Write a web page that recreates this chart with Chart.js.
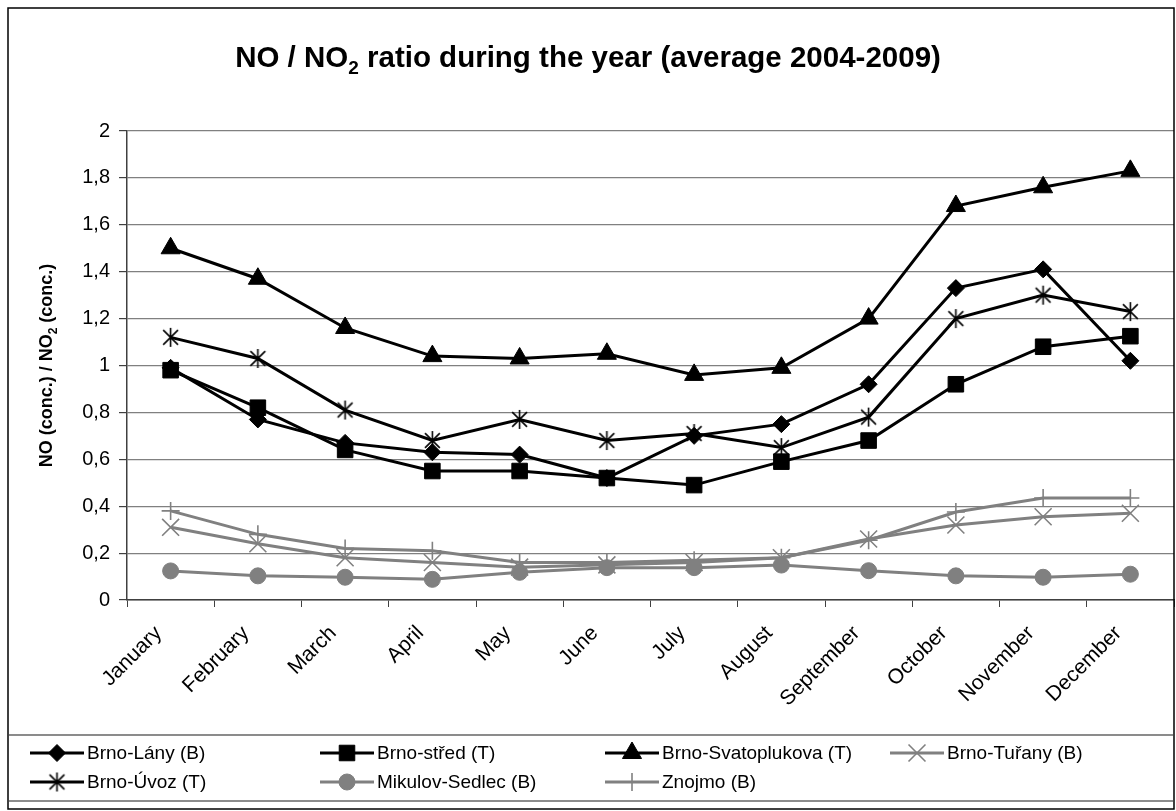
<!DOCTYPE html>
<html>
<head>
<meta charset="utf-8">
<script src="https://cdn.jsdelivr.net/npm/chart.js@4.4.0/dist/chart.umd.min.js"></script>
<style>
  html, body { margin: 0; padding: 0; background: #ffffff; }
  canvas { display: block; }
</style>
</head>
<body>
<canvas id="chart" width="1176" height="811"></canvas>
<script>
// Months on the category axis
const months = ['January', 'February', 'March', 'April', 'May', 'June',
                'July', 'August', 'September', 'October', 'November', 'December'];

// Monthly NO / NO2 ratio per station (average 2004-2009)
const brnoLany      = [0.99, 0.77, 0.67, 0.63, 0.62, 0.52, 0.70, 0.75, 0.92, 1.33, 1.41, 1.02];
const brnoStred     = [0.98, 0.82, 0.64, 0.55, 0.55, 0.52, 0.49, 0.59, 0.68, 0.92, 1.08, 1.125];
const brnoSvatopl   = [1.50, 1.37, 1.16, 1.04, 1.03, 1.05, 0.96, 0.99, 1.20, 1.68, 1.76, 1.83];
const brnoTurany    = [0.31, 0.24, 0.18, 0.16, 0.14, 0.15, 0.16, 0.18, 0.26, 0.32, 0.355, 0.37];
const brnoUvoz      = [1.12, 1.03, 0.81, 0.68, 0.77, 0.68, 0.71, 0.65, 0.78, 1.20, 1.30, 1.23];
const mikulovSedlec = [0.124, 0.103, 0.097, 0.088, 0.118, 0.138, 0.138, 0.149, 0.125, 0.103, 0.097, 0.11];
const znojmo        = [0.38, 0.28, 0.22, 0.21, 0.16, 0.16, 0.17, 0.18, 0.255, 0.375, 0.435, 0.435];

// Series names
const seriesNames = ['Brno-Lány (B)', 'Brno-střed (T)', 'Brno-Svatoplukova (T)', 'Brno-Tuřany (B)',
                     'Brno-Úvoz (T)', 'Mikulov-Sedlec (B)', 'Znojmo (B)'];

// Value axis range
const yMin = 0, yMax = 2, yStep = 0.2;

const FONT = '"Liberation Sans", Arial, Helvetica, sans-serif';
const BLACK = '#000000';
const GREY = '#808080';

// Asterisk marker: a vertical stroke crossed by two diagonals
function makeAsterisk(size, color, lw) {
  const c = document.createElement('canvas');
  c.width = size; c.height = size;
  const g = c.getContext('2d');
  const m = size / 2, r = size / 2 - 1;
  g.strokeStyle = color; g.lineWidth = lw; g.lineCap = 'butt';
  g.beginPath();
  g.moveTo(m, m - r); g.lineTo(m, m + r);
  const d = r * 0.78;
  g.moveTo(m - d, m - d); g.lineTo(m + d, m + d);
  g.moveTo(m + d, m - d); g.lineTo(m - d, m + d);
  g.stroke();
  return c;
}
const asterisk = makeAsterisk(21, BLACK, 1.6);

function series(label, data, color, style, radius, bw, idx) {
  return {
    label, data,
    borderColor: color, backgroundColor: color,
    borderWidth: 3,
    pointStyle: style, pointRadius: radius, pointHoverRadius: radius,
    pointBackgroundColor: color, pointBorderColor: color,
    pointBorderWidth: bw,
    tension: 0, fill: false,
    order: 10 - idx
  };
}

const datasets = [
  series(seriesNames[0], brnoLany,      BLACK, 'rectRot',  8.5, 1,   0),
  series(seriesNames[1], brnoStred,     BLACK, 'rect',     11,  1,   1),
  series(seriesNames[2], brnoSvatopl,   BLACK, 'triangle', 11,  1,   2),
  series(seriesNames[3], brnoTurany,    GREY,  'crossRot', 12,  1.6, 3),
  series(seriesNames[4], brnoUvoz,      BLACK, asterisk,   10,  1,   4),
  series(seriesNames[5], mikulovSedlec, GREY,  'circle',   8,   1,   5),
  series(seriesNames[6], znojmo,        GREY,  'cross',    9,   1.6, 6)
];

// Text with an optional subscript part
function drawRich(ctx, parts, x, y, size, weight) {
  let total = 0;
  const ws = parts.map(p => {
    ctx.font = weight + ' ' + (p.sub ? Math.round(size * 0.66) : size) + 'px ' + FONT;
    const w = ctx.measureText(p.t).width;
    total += w;
    return w;
  });
  let cx = x - total / 2;
  ctx.textAlign = 'left';
  ctx.textBaseline = 'alphabetic';
  parts.forEach((p, i) => {
    ctx.font = weight + ' ' + (p.sub ? Math.round(size * 0.66) : size) + 'px ' + FONT;
    ctx.fillText(p.t, cx, y + (p.sub ? size * 0.25 : 0));
    cx += ws[i];
  });
}

function drawMarker(ctx, ds, x, y) {
  const style = ds.pointStyle, r = ds.pointRadius;
  ctx.save();
  ctx.fillStyle = ds.pointBackgroundColor;
  ctx.strokeStyle = ds.pointBorderColor;
  ctx.lineWidth = ds.pointBorderWidth;
  if (typeof style !== 'string') {
    ctx.drawImage(style, x - style.width / 2, y - style.height / 2);
    ctx.restore();
    return;
  }
  ctx.beginPath();
  if (style === 'rectRot') {
    ctx.moveTo(x, y - r); ctx.lineTo(x + r, y); ctx.lineTo(x, y + r); ctx.lineTo(x - r, y); ctx.closePath();
    ctx.fill(); ctx.stroke();
  } else if (style === 'rect') {
    const s = r * Math.SQRT1_2;
    ctx.rect(x - s, y - s, 2 * s, 2 * s); ctx.fill(); ctx.stroke();
  } else if (style === 'triangle') {
    ctx.moveTo(x, y - r);
    ctx.lineTo(x + r * Math.sin(2 * Math.PI / 3), y - r * Math.cos(2 * Math.PI / 3));
    ctx.lineTo(x + r * Math.sin(4 * Math.PI / 3), y - r * Math.cos(4 * Math.PI / 3));
    ctx.closePath(); ctx.fill(); ctx.stroke();
  } else if (style === 'circle') {
    ctx.arc(x, y, r, 0, Math.PI * 2); ctx.fill(); ctx.stroke();
  } else if (style === 'cross') {
    ctx.moveTo(x, y - r); ctx.lineTo(x, y + r); ctx.moveTo(x - r, y); ctx.lineTo(x + r, y); ctx.stroke();
  } else if (style === 'crossRot') {
    const d = r * Math.SQRT1_2;
    ctx.moveTo(x - d, y - d); ctx.lineTo(x + d, y + d); ctx.moveTo(x + d, y - d); ctx.lineTo(x - d, y + d); ctx.stroke();
  }
  ctx.restore();
}

// Frame, titles and the boxed two-row legend
const decorations = {
  id: 'decorations',
  beforeDraw(chart) {
    const ctx = chart.ctx;
    ctx.save();
    ctx.fillStyle = '#ffffff';
    ctx.fillRect(0, 0, chart.width, chart.height);
    ctx.restore();
  },
  afterDraw(chart) {
    const ctx = chart.ctx;
    ctx.save();
    // outer frame
    ctx.strokeStyle = '#000000';
    ctx.lineWidth = 1.5;
    ctx.strokeRect(8, 8, 1166, 801);

    // chart title
    ctx.fillStyle = '#000000';
    drawRich(ctx, [{ t: 'NO / NO' }, { t: '2', sub: true }, { t: ' ratio during the year (average 2004-2009)' }],
             588, 67, 29.5, 'bold');

    // value axis title
    ctx.save();
    ctx.translate(52, (chart.chartArea.top + chart.chartArea.bottom) / 2);
    ctx.rotate(-Math.PI / 2);
    drawRich(ctx, [{ t: 'NO (conc.) / NO' }, { t: '2', sub: true }, { t: ' (conc.)' }], 0, 0, 18, 'bold');
    ctx.restore();

    // legend box
    ctx.strokeStyle = '#404040';
    ctx.lineWidth = 1.2;
    ctx.strokeRect(8, 735, 1166, 66);

    const cols = [30, 320, 605, 890];
    const rows = [753, 782];
    chart.data.datasets.forEach((ds, i) => {
      const x0 = cols[i % 4], y0 = rows[Math.floor(i / 4)];
      ctx.strokeStyle = ds.borderColor;
      ctx.lineWidth = 3;
      ctx.beginPath();
      ctx.moveTo(x0, y0); ctx.lineTo(x0 + 54, y0);
      ctx.stroke();
      drawMarker(ctx, ds, x0 + 27, y0);
      ctx.fillStyle = '#000000';
      ctx.font = '19px ' + FONT;
      ctx.textAlign = 'left';
      ctx.textBaseline = 'middle';
      ctx.fillText(ds.label, x0 + 57, y0 + 1);
    });
    ctx.restore();
  }
};

new Chart(document.getElementById('chart'), {
  type: 'line',
  data: { labels: months, datasets },
  options: {
    responsive: false,
    animation: false,
    devicePixelRatio: 1,
    layout: { autoPadding: false, padding: { top: 131, right: 2, bottom: 0, left: 0 } },
    plugins: {
      legend: { display: false },
      title: { display: false },
      tooltip: { enabled: false }
    },
    scales: {
      x: {
        type: 'category',
        offset: true,
        grid: { display: true, drawOnChartArea: false, drawTicks: true, tickLength: 7, offset: true, color: '#404040' },
        border: { display: true, color: '#404040', width: 1.5 },
        ticks: {
          autoSkip: false, maxRotation: 45, minRotation: 45,
          color: '#000000', padding: 14, labelOffset: -12,
          font: { family: FONT, size: 21 }
        },
        afterFit(scale) {
          scale.height = 211;
          scale.paddingLeft = 0;
          scale.paddingRight = 0;
        }
      },
      y: {
        min: yMin, max: yMax,
        grid: { color: '#808080', lineWidth: 1.2, tickLength: 8, tickColor: '#404040', drawTicks: true },
        border: { display: true, color: '#404040', width: 1.5 },
        ticks: {
          stepSize: yStep, color: '#000000', padding: 9,
          font: { family: FONT, size: 20 },
          callback: v => String(Math.round(v * 10) / 10).replace('.', ',')
        },
        afterFit(scale) { scale.width = 127; }
      }
    }
  },
  plugins: [decorations]
});
</script>
</body>
</html>
